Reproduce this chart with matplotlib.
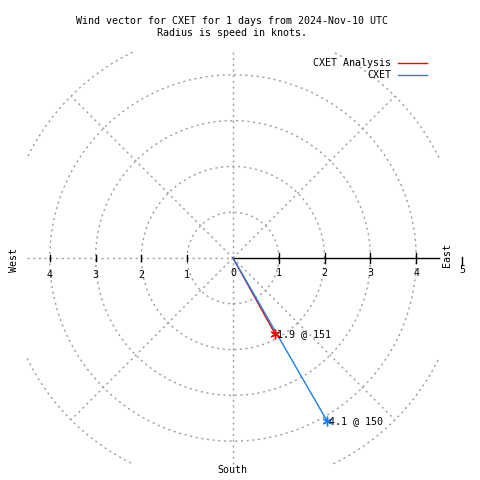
import numpy as np
import matplotlib
matplotlib.use("Agg")
import matplotlib.pyplot as plt

# wind data (speed in knots, direction in degrees, compass)
series_names = ["CXET Analysis", "CXET"]
speeds = [1.9, 4.1]
directions = [151, 150]
colors = ["#ff0000", "#1c7ee6"]

title_lines = ["Wind vector for CXET for 1 days from 2024-Nov-10 UTC",
               "Radius is speed in knots."]
rings = [1, 2, 3, 4, 5]
spokes = [45, 135, 225, 315]
east_ticks = [1, 2, 3, 4]
west_ticks = [1, 2, 3, 4]

px = 45.8          # pixels per knot in the reference
cx, cy = 233, 258  # centre in pixels
box = 4.5          # clip box for the grid
grid_col = "#9c9c9c"
mono = "DejaVu Sans Mono"
fs = 7.2

fig = plt.figure(figsize=(4.8, 4.8), dpi=100)
ax = fig.add_axes([0, 0, 1, 1])
ax.set_xlim(-cx / px, (480 - cx) / px)
ax.set_ylim(-(480 - cy) / px, cy / px)
ax.axis("off")

dash = dict(color=grid_col, lw=1.0, linestyle=(0, (1.5, 2.6)))

# polar grid circles, clipped to the square plot area
t = np.linspace(0, 2 * np.pi, 721)
for r in rings:
    gx = r * np.cos(t)
    gy = r * np.sin(t)
    out = (np.abs(gx) > box) | (np.abs(gy) > box)
    gx[out] = np.nan
    gy[out] = np.nan
    ax.plot(gx, gy, **dash)

# spokes
for a in spokes:
    th = np.radians(a)
    ax.plot([0, 5 * np.cos(th)], [0, 5 * np.sin(th)], **dash)
ax.plot([0, 0], [-box, box], **dash)
ax.plot([-box, 0], [0, 0], **dash)

# solid east axis with ticks
ax.plot([0, box], [0, 0], color="black", lw=1.0)
for v in east_ticks:
    ax.plot([v, v], [-0.1, 0.1], color="black", lw=1.0)
    ax.text(v, -0.33, str(v), family=mono, fontsize=fs, ha="center", va="center")
ax.plot([5, 5], [0.02, -0.16], color="black", lw=1.0)
ax.text(5, -0.26, "5", family=mono, fontsize=fs, ha="center", va="center")
ax.text(0, -0.33, "0", family=mono, fontsize=fs, ha="center", va="center")
for v in west_ticks:
    ax.plot([-v, -v], [-0.07, 0.07], color="black", lw=1.0)
    ax.text(-v, -0.37, str(v), family=mono, fontsize=fs, ha="center", va="center")

# compass labels
ax.text(4.67, 0.07, "East", family=mono, fontsize=fs, rotation=90, ha="center", va="center")
ax.text(-4.78, -0.04, "West", family=mono, fontsize=fs, rotation=90, ha="center", va="center")
ax.text(-0.02, -4.63, "South", family=mono, fontsize=fs, ha="center", va="center")

# wind vectors
for i, (name, spd, d, c) in enumerate(zip(series_names, speeds, directions, colors)):
    th = np.radians(d)
    x = spd * np.sin(th)
    y = spd * np.cos(th)
    ax.plot([0, x], [0, y], color=c, lw=1.0, zorder=3 + i)
    ax.plot([x], [y], marker=(6, 2, 0), color=c, markersize=7, mew=1.0, zorder=5)
    ax.text(x + 0.05, y, f"{spd} @ {d}", family=mono, fontsize=fs,
            ha="left", va="center", zorder=6)
    # legend entry
    ly = 4.26 - i * 0.26
    ax.text(3.45, ly, name, family=mono, fontsize=fs, ha="right", va="center")
    ax.plot([3.60, 4.24], [ly, ly], color=c, lw=1.0)

# title
fig.text(0.483, 1 - 21 / 480, title_lines[0], family=mono, fontsize=fs,
         ha="center", va="center")
fig.text(0.484, 1 - 33 / 480, title_lines[1], family=mono, fontsize=fs,
         ha="center", va="center")

fig.savefig("out.png", dpi=100)
